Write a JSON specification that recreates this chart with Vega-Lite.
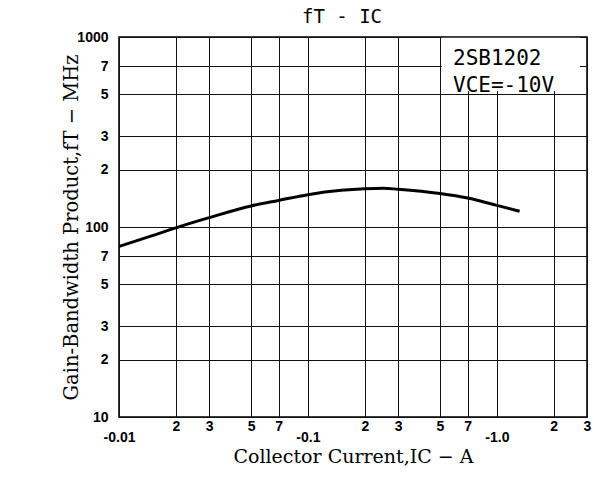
{
  "$schema": "https://vega.github.io/schema/vega-lite/v6.json",
  "width": 468,
  "height": 380,
  "autosize": "none",
  "padding": {"left": 119, "top": 37, "right": 7, "bottom": 60},
  "background": "white",
  "title": {
    "text": "fT - IC",
    "font": "DejaVu Sans Mono",
    "fontSize": 19,
    "fontWeight": "normal",
    "color": "black",
    "anchor": "middle",
    "dx": -11,
    "offset": 3
  },
  "config": {
    "view": {"stroke": "black", "strokeWidth": 1.5}
  },
  "layer": [
    {
      "data": {
        "values": [
          {"ic_magnitude": 0.01, "ft": 79},
          {"ic_magnitude": 0.015, "ft": 90},
          {"ic_magnitude": 0.02, "ft": 99},
          {"ic_magnitude": 0.03, "ft": 112},
          {"ic_magnitude": 0.05, "ft": 129},
          {"ic_magnitude": 0.07, "ft": 138},
          {"ic_magnitude": 0.1, "ft": 148},
          {"ic_magnitude": 0.15, "ft": 156},
          {"ic_magnitude": 0.2, "ft": 159},
          {"ic_magnitude": 0.25, "ft": 160},
          {"ic_magnitude": 0.3, "ft": 158},
          {"ic_magnitude": 0.5, "ft": 150},
          {"ic_magnitude": 0.7, "ft": 142},
          {"ic_magnitude": 1.0, "ft": 130},
          {"ic_magnitude": 1.32, "ft": 121}
        ]
      },
      "mark": {"type": "line", "color": "black", "strokeWidth": 3, "interpolate": "monotone", "clip": true},
      "encoding": {
        "x": {
          "field": "ic_magnitude",
          "type": "quantitative",
          "scale": {"type": "log", "domain": [0.01, 3], "nice": false},
          "axis": {
            "values": [0.01, 0.02, 0.03, 0.05, 0.07, 0.1, 0.2, 0.3, 0.5, 0.7, 1, 2, 3],
            "grid": true,
            "gridColor": "#111111",
            "gridWidth": 1,
            "domain": false,
            "ticks": false,
            "labelFlush": false,
            "labelOverlap": false,
            "labelExpr": "datum.value == 0.01 ? [' ', '-0.01'] : datum.value == 0.1 ? [' ', '-0.1'] : datum.value == 1 ? [' ', '-1.0'] : format(datum.value / pow(10, floor(log(datum.value) / LN10 + 0.000001)), '.0f')",
            "labelFont": "Liberation Sans",
            "labelFontWeight": "bold",
            "labelFontSize": 14,
            "labelLineHeight": 11,
            "labelColor": "black",
            "labelBaseline": "top",
            "labelPadding": 2,
            "title": "Collector Current,IC − A",
            "titleFont": "DejaVu Serif",
            "titleFontWeight": "normal",
            "titleFontSize": 19,
            "titleColor": "black",
            "titleY": 45,
            "titleBaseline": "alphabetic"
          }
        },
        "y": {
          "field": "ft",
          "type": "quantitative",
          "scale": {"type": "log", "domain": [10, 1000], "nice": false},
          "axis": {
            "values": [10, 20, 30, 50, 70, 100, 200, 300, 500, 700, 1000],
            "grid": true,
            "gridColor": "#111111",
            "gridWidth": 1,
            "domain": false,
            "ticks": false,
            "labelOverlap": false,
            "labelFlush": false,
            "labelExpr": "datum.value == 10 || datum.value == 100 || datum.value == 1000 ? format(datum.value, 'd') : format(datum.value / pow(10, floor(log(datum.value) / LN10 + 0.000001)), '.0f')",
            "labelFont": "Liberation Sans",
            "labelFontWeight": "bold",
            "labelFontSize": 14,
            "labelColor": "black",
            "labelPadding": 11,
            "title": "Gain-Bandwidth Product,fT − MHz",
            "titleFont": "DejaVu Serif",
            "titleFontWeight": "normal",
            "titleFontSize": 19.5,
            "titleColor": "black",
            "titleX": -42,
            "titleBaseline": "alphabetic"
          }
        }
      }
    },
    {
      "data": {"values": [{}]},
      "mark": {"type": "rect", "fill": "white"},
      "encoding": {
        "x": {"datum": 0.51, "type": "quantitative"},
        "x2": {"datum": 2.75},
        "y": {"datum": 520, "type": "quantitative"},
        "y2": {"datum": 990}
      }
    },
    {
      "data": {"values": [{}]},
      "mark": {"type": "text", "font": "DejaVu Sans Mono", "fontSize": 21, "color": "black", "align": "left", "baseline": "alphabetic"},
      "encoding": {
        "x": {"datum": 0.586, "type": "quantitative"},
        "y": {"datum": 712, "type": "quantitative"},
        "text": {"value": "2SB1202"}
      }
    },
    {
      "data": {"values": [{}]},
      "mark": {"type": "text", "font": "DejaVu Sans Mono", "fontSize": 21, "color": "black", "align": "left", "baseline": "alphabetic"},
      "encoding": {
        "x": {"datum": 0.586, "type": "quantitative"},
        "y": {"datum": 513, "type": "quantitative"},
        "text": {"value": "VCE=-10V"}
      }
    }
  ]
}
